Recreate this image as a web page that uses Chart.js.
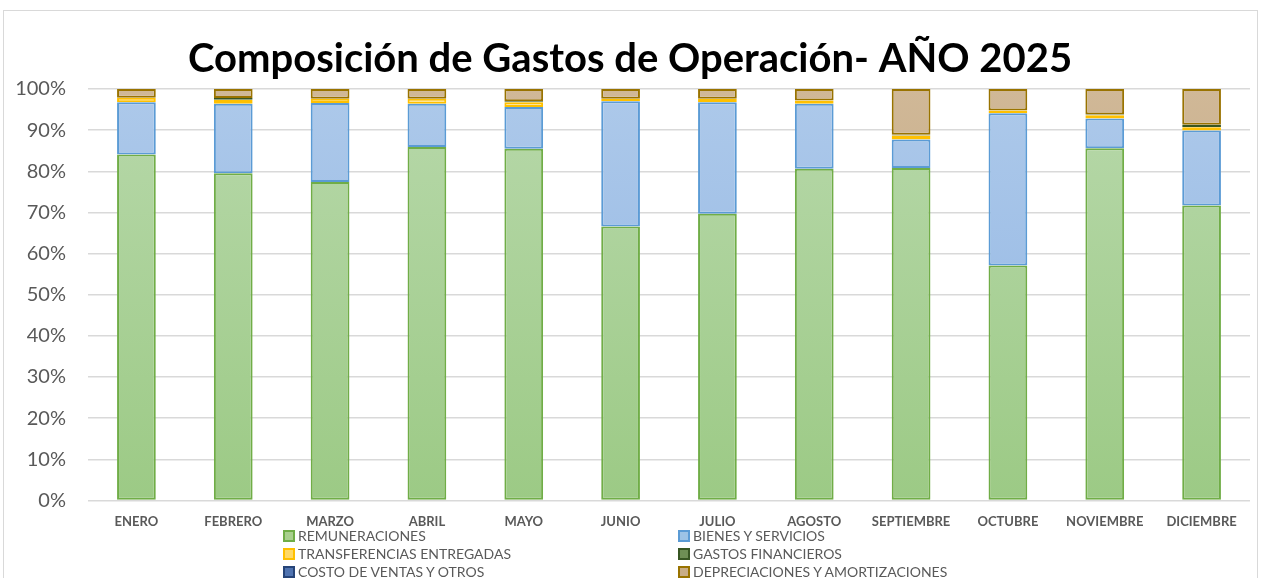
<!DOCTYPE html>
<html lang="es">
<head>
  <meta charset="UTF-8" />
  <title>Composición de Gastos de Operación</title>
  <script src="https://cdn.jsdelivr.net/npm/chart.js"></script>
  <style>
    body {
      margin: 0;
      background: #ffffff;
      font-family: Lato, "Open Sans", sans-serif;
    }
    #wrap {
      position: relative;
      width: 1262px;
      height: 578px;
    }
    #frame {
      position: absolute;
      left: 3px;
      top: 10px;
      width: 1253px;
      height: 580px;
      border: 1px solid #d9d9d9;
    }
    canvas {
      position: absolute;
      left: 0;
      top: 0;
    }
    #legend {
      position: absolute;
      left: 283px;
      top: 527px;
      display: grid;
      grid-template-columns: 395px 300px;
      row-gap: 0;
      font-size: 14px;
      color: #595959;
      line-height: 18px;
    }
    .item { display: flex; align-items: center; white-space: nowrap; }
    .box {
      width: 8px; height: 8px;
      border: 2px solid;
      margin-right: 3px;
    }
  </style>
</head>
<body>
<div id="wrap">
  <div id="frame"></div>
  <canvas id="chart" width="1262" height="578"></canvas>
  <div id="legend"></div>
</div>

<script>
  // données (en %)
  const months = ["ENERO", "FEBRERO", "MARZO", "ABRIL", "MAYO", "JUNIO", "JULIO",
                  "AGOSTO", "SEPTIEMBRE", "OCTUBRE", "NOVIEMBRE", "DICIEMBRE"];
  const remuneraciones = [84.1, 79.5, 77.4, 85.9, 85.5, 66.6, 69.7, 80.6, 80.8, 57.1, 85.6, 71.7];
  const bienes = [12.7, 16.9, 19.2, 10.5, 10.1, 30.4, 27.1, 15.8, 6.9, 37.0, 7.2, 18.2];
  const transferencias = [1.1, 1.0, 1.0, 1.2, 1.2, 0.6, 0.8, 0.8, 1.0, 0.7, 0.8, 0.8];
  const gastosFinancieros = [0, 0.4, 0, 0, 0.2, 0, 0, 0, 0.2, 0, 0.2, 0.6];
  const costoVentas = [0, 0, 0, 0, 0, 0, 0, 0, 0, 0, 0, 0];
  const depreciaciones = [2.1, 2.2, 2.4, 2.4, 3.0, 2.4, 2.4, 2.8, 11.1, 5.2, 6.2, 8.7];
  const yTicks = [0, 10, 20, 30, 40, 50, 60, 70, 80, 90, 100];

  function grad(top, bottom) {
    return function (ctx) {
      const area = ctx.chart.chartArea;
      if (!area) return bottom;
      const g = ctx.chart.ctx.createLinearGradient(0, area.top, 0, area.bottom);
      g.addColorStop(0, top);
      g.addColorStop(1, bottom);
      return g;
    };
  }

  const series = [
    { label: "REMUNERACIONES", data: remuneraciones, fill: grad("#b7d8aa", "#9cca85"), border: "#70ad47", swatch: "#a9d08e" },
    { label: "BIENES Y SERVICIOS", data: bienes, fill: grad("#adc9ea", "#8fb4e3"), border: "#5b9bd5", swatch: "#9dc3e6" },
    { label: "TRANSFERENCIAS ENTREGADAS", data: transferencias, fill: grad("#ffe08a", "#ffd966"), border: "#ffc000", swatch: "#ffd966" },
    { label: "GASTOS FINANCIEROS", data: gastosFinancieros, fill: grad("#7a9a5c", "#548235"), border: "#375623", swatch: "#6e8f55" },
    { label: "COSTO DE VENTAS Y OTROS", data: costoVentas, fill: grad("#6d8fc7", "#2f5597"), border: "#264478", swatch: "#4f73b0" },
    { label: "DEPRECIACIONES Y AMORTIZACIONES", data: depreciaciones, fill: grad("#d0b897", "#bfa27a"), border: "#997300", swatch: "#c9ad87" }
  ];

  new Chart(document.getElementById("chart"), {
    type: "bar",
    data: {
      labels: months,
      datasets: series.map(s => ({
        label: s.label,
        data: s.data,
        backgroundColor: s.fill,
        borderColor: s.border,
        borderWidth: 2,
        borderSkipped: false,
        categoryPercentage: 1,
        barPercentage: 0.4
      }))
    },
    options: {
      responsive: false,
      animation: false,
      layout: { padding: { left: 10, right: 12, top: 8, bottom: 42 } },
      plugins: {
        legend: { display: false },
        tooltip: { enabled: false },
        title: {
          display: true,
          text: "Composición de Gastos de Operación- AÑO 2025",
          color: "#000000",
          font: { family: "Lato", size: 40, weight: "bold" },
          padding: { top: 27, bottom: 6 }
        }
      },
      scales: {
        x: {
          stacked: true,
          grid: { display: false },
          border: { display: false },
          ticks: {
            color: "#595959",
            font: { family: "Lato", size: 13, weight: "bold" },
            maxRotation: 0,
            autoSkip: false,
            padding: 6
          }
        },
        y: {
          stacked: true,
          min: 0,
          max: 100,
          afterBuildTicks: axis => { axis.ticks = yTicks.map(v => ({ value: v })); },
          afterFit: axis => { axis.width = 78; },
          grid: { color: "#d9d9d9", lineWidth: 1.5, drawTicks: false },
          border: { display: false },
          ticks: {
            color: "#595959",
            font: { family: "Lato", size: 20 },
            padding: 22,
            callback: v => v + "%"
          }
        }
      }
    }
  });

  const legend = document.getElementById("legend");
  series.forEach(s => {
    const div = document.createElement("div");
    div.className = "item";
    div.innerHTML = `<span class="box" style="background:${s.swatch};border-color:${s.border}"></span>${s.label}`;
    legend.appendChild(div);
  });
</script>
</body>
</html>
